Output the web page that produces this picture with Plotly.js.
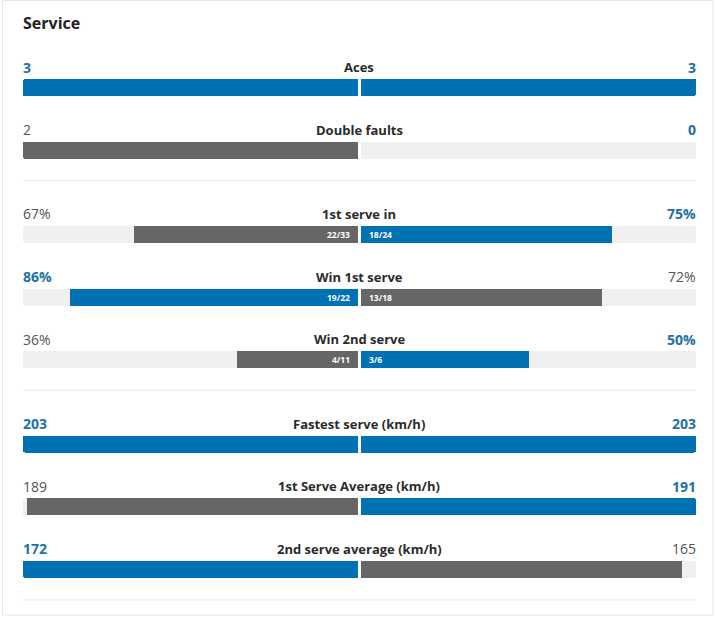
<!DOCTYPE html>
<html>
<head>
<meta charset="utf-8">
<script src="https://cdn.plot.ly/plotly-3.0.1.min.js"></script>
<style>html,body{margin:0;padding:0;background:#fff;}#chart{width:720px;height:617px;}</style>
</head>
<body>
<div id="chart"></div>
<script>
// ---- data ----
const chartTitle = 'Service';
const statLabels = ['Aces', 'Double faults', '1st serve in', 'Win 1st serve', 'Win 2nd serve',
  'Fastest serve (km/h)', '1st Serve Average (km/h)', '2nd serve average (km/h)'];
const statGroups = [0, 0, 1, 1, 1, 2, 2, 2];
const player1Values = [3, 2, 67, 86, 36, 203, 189, 172];
const player2Values = [3, 0, 75, 72, 50, 203, 191, 165];
const player1Display = ['3', '2', '67%', '86%', '36%', '203', '189', '172'];
const player2Display = ['3', '0', '75%', '72%', '50%', '203', '191', '165'];
const player1Fractions = ['', '', '22/33', '19/22', '4/11', '', '', ''];
const player2Fractions = ['', '', '18/24', '13/18', '3/6', '', '', ''];
const isPercent = [false, false, true, true, true, false, false, false];
const lowerIsBetter = [false, true, false, false, false, false, false, false];

// ---- style ----
const BLUE = '#0072b4', GREY = '#666666', TRACK = '#f0f0f0';
const BLUE_TXT = '#1f70a6', GREY_TXT = '#555555', LABEL_TXT = '#2b2b2b';
const FONT = '"Open Sans", Roboto, sans-serif';
const H = 617, W = 720;
const firstY = 87.5, rowStep = 62.7, groupGap = 21.5, barH = 17;

const rowY = statLabels.map((_, i) => firstY + rowStep * i + groupGap * statGroups[i]);

function share(i, v1, v2, v) {
  if (isPercent[i]) return v / 100;
  const m = Math.max(v1, v2);
  return m > 0 ? v / m : 0;
}
function wins(i, mine, other) {
  if (mine === other) return true;
  return lowerIsBetter[i] ? mine < other : mine > other;
}

const n = statLabels.length;
const p1Share = [], p2Share = [], p1Col = [], p2Col = [], p1Txt = [], p2Txt = [];
for (let i = 0; i < n; i++) {
  const a = player1Values[i], b = player2Values[i];
  p1Share.push(share(i, a, b, a));
  p2Share.push(share(i, a, b, b));
  const w1 = wins(i, a, b), w2 = wins(i, b, a);
  p1Col.push(w1 ? BLUE : GREY);
  p2Col.push(w2 ? BLUE : GREY);
  p1Txt.push(w1 ? BLUE_TXT : GREY_TXT);
  p2Txt.push(w2 ? BLUE_TXT : GREY_TXT);
}

const ones = statLabels.map(() => 1);
const widths = statLabels.map(() => barH);
const common = {type: 'bar', orientation: 'h', y: rowY, width: widths, hoverinfo: 'skip', showlegend: false};

const traces = [
  Object.assign({}, common, {x: ones, xaxis: 'x', yaxis: 'y', marker: {color: TRACK, cornerradius: 2}}),
  Object.assign({}, common, {x: ones, xaxis: 'x2', yaxis: 'y', marker: {color: TRACK, cornerradius: 2}}),
  Object.assign({}, common, {x: p1Share, xaxis: 'x', yaxis: 'y', marker: {color: p1Col, cornerradius: 2}}),
  Object.assign({}, common, {x: p2Share, xaxis: 'x2', yaxis: 'y', marker: {color: p2Col, cornerradius: 2}})
];

const annotations = [];
annotations.push({text: '<b>' + chartTitle + '</b>', xref: 'paper', yref: 'y', x: 21 / W, y: 23,
  xanchor: 'left', yanchor: 'middle', showarrow: false, font: {family: FONT, size: 16, color: '#222'}});
for (let i = 0; i < n; i++) {
  const ty = rowY[i] - 20.5;
  const w1 = p1Col[i] === BLUE, w2 = p2Col[i] === BLUE;
  annotations.push({text: w1 ? '<b>' + player1Display[i] + '</b>' : player1Display[i],
    xref: 'x', yref: 'y', x: 1, y: ty, xanchor: 'left', yanchor: 'middle', showarrow: false,
    xshift: -2, font: {family: FONT, size: 14, color: p1Txt[i]}});
  annotations.push({text: w2 ? '<b>' + player2Display[i] + '</b>' : player2Display[i],
    xref: 'x2', yref: 'y', x: 1, y: ty, xanchor: 'right', yanchor: 'middle', showarrow: false,
    xshift: 2, font: {family: FONT, size: 14, color: p2Txt[i]}});
  annotations.push({text: '<b>' + statLabels[i] + '</b>', xref: 'paper', yref: 'y', x: 0.4993, y: ty,
    xanchor: 'center', yanchor: 'middle', showarrow: false, font: {family: FONT, size: 13, color: LABEL_TXT}});
  if (player1Fractions[i]) {
    annotations.push({text: '<b>' + player1Fractions[i] + '</b>', xref: 'x', yref: 'y', x: 0, y: rowY[i],
      xanchor: 'right', yanchor: 'middle', showarrow: false, xshift: -6,
      font: {family: FONT, size: 8.5, color: '#ffffff'}});
  }
  if (player2Fractions[i]) {
    annotations.push({text: '<b>' + player2Fractions[i] + '</b>', xref: 'x2', yref: 'y', x: 0, y: rowY[i],
      xanchor: 'left', yanchor: 'middle', showarrow: false, xshift: 6,
      font: {family: FONT, size: 8.5, color: '#ffffff'}});
  }
}

// dividers after each group
const shapes = [];
const groupIds = [...new Set(statGroups)];
groupIds.forEach(g => {
  let last = -1;
  statGroups.forEach((gg, i) => { if (gg === g) last = i; });
  const yLine = rowY[last] + barH / 2 + 22;
  shapes.push({type: 'line', xref: 'paper', yref: 'y', x0: 23 / W, x1: 696 / W, y0: yLine, y1: yLine,
    line: {color: '#e8e8e8', width: 1}});
});
// card border
shapes.push({type: 'rect', xref: 'paper', yref: 'y', x0: 2.5 / W, x1: 713 / W, y0: 0.5, y1: 615,
  line: {color: '#e6e6e6', width: 1}, fillcolor: 'rgba(0,0,0,0)', layer: 'below'});

const hidden = {showgrid: false, zeroline: false, showticklabels: false, showline: false, ticks: '', fixedrange: true};
const layout = {
  width: W, height: H,
  margin: {l: 0, r: 0, t: 0, b: 0},
  paper_bgcolor: '#ffffff', plot_bgcolor: 'rgba(0,0,0,0)',
  barmode: 'overlay',
  bargap: 0,
  xaxis: Object.assign({}, hidden, {domain: [23 / W, 358 / W], range: [1, 0]}),
  xaxis2: Object.assign({}, hidden, {domain: [361 / W, 696 / W], range: [0, 1], anchor: 'y'}),
  yaxis: Object.assign({}, hidden, {range: [H, 0], domain: [0, 1]}),
  annotations: annotations,
  shapes: shapes,
  font: {family: FONT}
};

Plotly.newPlot('chart', traces, layout, {displayModeBar: false, staticPlot: true});
</script>
</body>
</html>
